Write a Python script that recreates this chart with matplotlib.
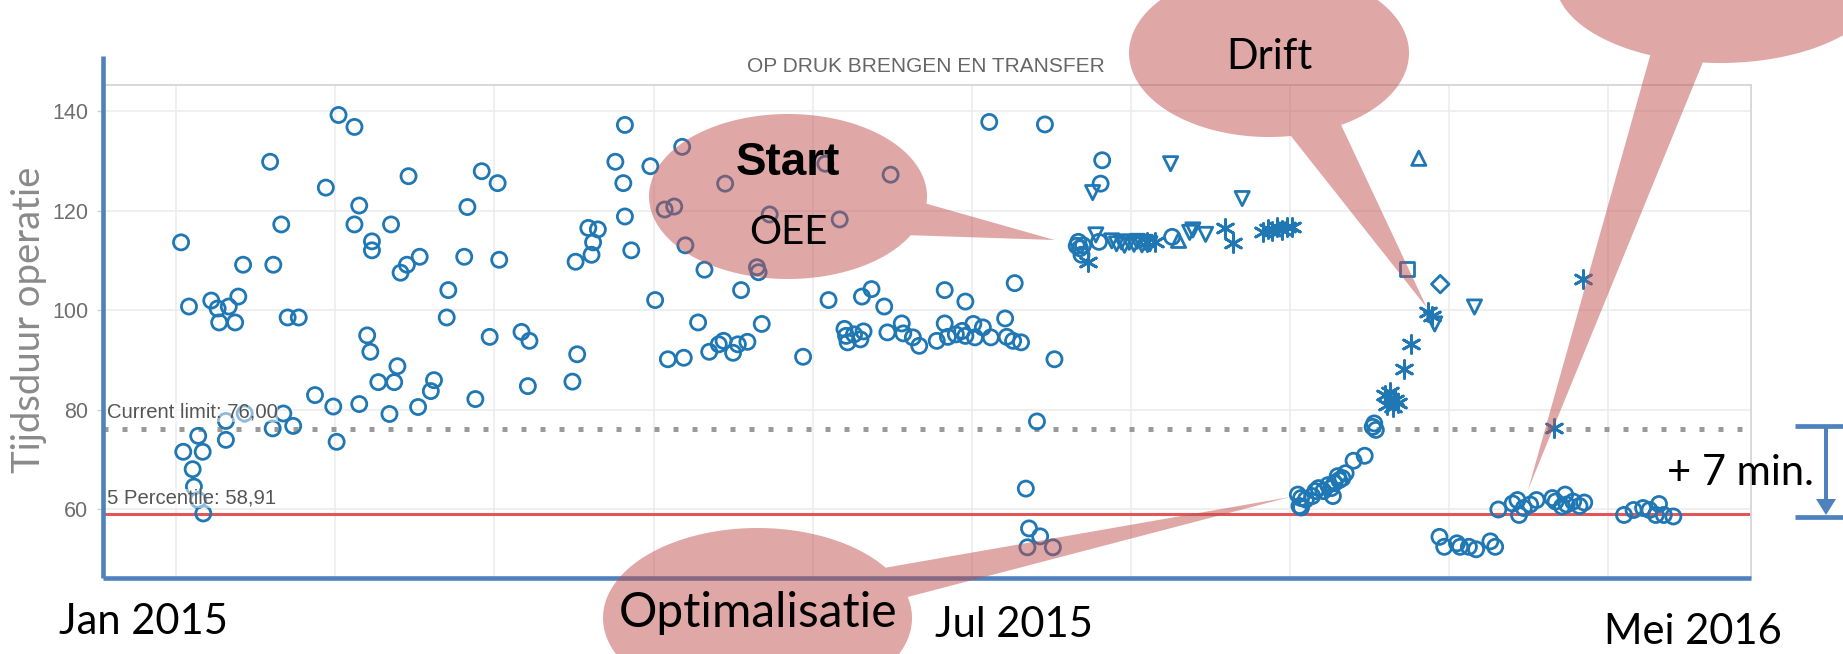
import matplotlib
matplotlib.use("Agg")
import matplotlib.pyplot as plt
import numpy as np
from matplotlib.patches import Polygon
from matplotlib.transforms import blended_transform_factory

# x positions are in "grid units": one unit per vertical gridline of the chart
circle_x = [0.03, 0.08, 0.044, 0.138, 0.166, 0.103, 0.111, 0.138, 0.17, 0.22,
            0.26, 0.27, 0.33, 0.37, 0.39, 0.42, 0.312, 0.312, 0.43, 0.59,
            0.61, 0.66, 0.606, 0.673, 0.70, 0.735, 0.77, 0.872, 0.94, 0.987,
            1.008, 1.02, 1.12, 1.12, 1.15, 1.15, 1.20, 1.22, 1.23, 1.23,
            1.27, 1.34, 1.35, 1.37, 1.39, 1.41, 1.45, 1.46, 1.52, 1.53,
            1.60, 1.62, 1.70, 1.71, 1.81, 1.83, 1.88, 1.92, 1.97, 2.02,
            2.03, 2.17, 2.21, 2.22, 2.49, 2.51, 2.52, 2.59, 2.61, 2.62,
            2.65, 2.76, 2.82, 2.81, 2.82, 2.86,
            2.98, 3.18, 3.07, 3.13, 3.20, 3.32, 3.45, 3.01, 3.55, 3.28,
            3.35, 3.41, 3.44, 3.50, 3.53, 3.59, 3.66, 3.65, 3.68, 3.73,
            4.08, 4.17, 4.49, 3.09, 3.19, 3.94, 4.10, 4.31, 4.37, 4.45,
            4.83, 4.96, 5.11, 5.46, 5.27, 5.52,
            4.20, 4.21, 4.22, 4.26, 4.30, 4.32, 4.47, 4.56, 4.57, 4.63,
            4.67, 4.78, 4.83, 4.85, 4.90, 4.94, 4.96, 5.01, 5.02, 5.07,
            5.12, 5.21, 5.22, 5.26, 5.31,
            5.82, 5.81, 5.67, 5.68, 5.69, 5.70, 5.66, 5.80, 6.26,
            5.41, 5.34, 5.36, 5.43, 5.35, 5.51,
            7.53, 7.54, 7.52, 7.47, 7.40, 7.35, 7.33, 7.30, 7.28, 7.26,
            7.24, 7.21, 7.18, 7.16, 7.14, 7.10, 7.07, 7.05, 7.06, 7.07,
            7.27, 7.31,
            7.94, 7.97, 8.05, 8.07, 8.125, 8.17, 8.26, 8.29,
            8.31, 8.40, 8.43, 8.44, 8.47, 8.51, 8.55, 8.65, 8.67, 8.73,
            8.74, 8.78, 8.82, 8.85, 8.71,
            9.10, 9.16, 9.22, 9.26, 9.32, 9.30, 9.35, 9.41]
circle_y = [113.6, 100.7, 71.5, 74.7, 71.5, 68.0, 64.5, 61.8, 59.1, 101.9,
            100.3, 97.5, 100.7, 97.5, 102.7, 109.1, 77.7, 73.9, 79.2, 129.8,
            109.1, 117.2, 76.2, 79.2, 98.5, 76.7, 98.5, 82.9, 124.6, 80.6,
            73.5, 139.2, 136.8, 117.2, 121.0, 81.1, 94.9, 91.6, 113.8, 112.0,
            85.5, 79.1, 117.2, 85.5, 88.7, 107.5, 109.1, 126.9, 80.5, 110.7,
            83.7, 85.9, 98.5, 104.0, 110.7, 120.7, 82.1, 127.9, 94.6, 125.5,
            110.1, 95.6, 84.7, 93.8, 85.6, 109.7, 91.1, 116.5, 111.1, 113.6,
            116.2, 129.8, 137.2, 125.5, 118.8, 112.0,
            128.9, 132.8, 120.2, 120.8, 113.0, 108.1, 125.4, 102.0, 104.0, 97.5,
            91.6, 93.1, 93.8, 91.4, 93.1, 93.6, 107.6, 108.6, 97.2, 119.2,
            129.4, 118.2, 127.2, 90.1, 90.4, 90.6, 102.0, 102.7, 104.2, 100.7,
            104.0, 101.7, 137.8, 137.3, 105.4, 90.1,
            96.2, 94.8, 93.5, 95.1, 94.1, 95.7, 95.5, 97.3, 95.3, 94.5,
            92.8, 93.8, 97.3, 94.6, 95.1, 95.8, 94.8, 97.2, 94.5, 96.5,
            94.5, 98.3, 94.6, 93.8, 93.5,
            130.1, 125.4, 113.7, 112.4, 111.1, 113.0, 112.9, 113.7, 114.7,
            77.6, 64.1, 56.1, 54.5, 52.3, 52.3,
            77.2, 75.9, 76.5, 70.7, 69.7, 67.2, 66.2, 66.6, 65.2, 64.2,
            64.8, 63.6, 64.2, 63.6, 62.6, 61.9, 62.2, 62.9, 60.6, 60.3,
            62.6, 65.8,
            54.4, 52.4, 53.1, 52.4, 52.4, 51.9, 53.5, 52.4,
            59.9, 61.1, 61.8, 58.8, 60.2, 60.9, 61.8, 62.2, 61.5, 62.9,
            60.9, 61.5, 60.6, 61.3, 60.5,
            58.8, 59.8, 60.2, 59.8, 61.0, 58.8, 58.8, 58.5]

tri_down_x = [5.76, 5.78, 5.88, 5.91, 5.94, 5.96, 5.99, 6.02, 6.04, 6.07,
              6.09, 6.12, 6.25, 6.39, 6.37, 6.47, 6.70, 7.91, 8.16]
tri_down_y = [123.6, 115.1, 113.9, 113.3, 113.7, 113.0, 113.6, 113.2, 113.8, 113.1,
              113.6, 113.3, 129.4, 116.1, 115.6, 115.2, 122.4, 97.2, 100.6]

tri_up_x = [6.30, 7.81]
tri_up_y = [114.0, 130.5]

square_x = [7.735]
square_y = [108.2]

diamond_x = [7.945]
diamond_y = [105.2]

star_x = [5.73, 6.10, 6.15, 6.59, 6.64, 6.83, 6.86, 6.89, 6.92, 6.95,
          6.98, 7.01, 7.87, 7.89, 7.76, 7.72, 7.60, 7.63, 7.66, 7.61,
          7.65, 7.68, 7.63, 8.66, 8.84]
star_y = [109.7, 113.7, 113.7, 116.4, 113.4, 115.7, 116.2, 115.9, 116.6, 116.0,
          116.6, 116.6, 99.6, 98.7, 93.1, 88.1, 83.0, 83.6, 82.0, 81.0,
          80.5, 81.3, 82.3, 76.3, 106.3]

current_limit = 76.00
percentile_5 = 58.91
y_ticks = [60, 80, 100, 120, 140]

BLUE = "#1f77b4"
OFFICE_BLUE = "#4F81BD"
BUBBLE = "#C0504D"
CAL = ["Lato", "DejaVu Sans"]
TAB = ["Liberation Sans", "DejaVu Sans"]

W, H = 1843, 654
fig = plt.figure(figsize=(W / 100, H / 100), dpi=100)
ax = fig.add_axes([103.4 / W, 1 - 578 / H, (1751.3 - 103.4) / W, (578 - 84.6) / H])

# --- scatter ---------------------------------------------------------------
kw = dict(facecolors="none", edgecolors=BLUE, linewidths=2.0, zorder=2)
ax.scatter(circle_x, circle_y, marker="o", s=118, **kw)
ax.scatter(tri_down_x, tri_down_y, marker="v", s=105, **kw)
ax.scatter(tri_up_x, tri_up_y, marker="^", s=105, **kw)
ax.scatter(square_x, square_y, marker="s", s=95, **kw)
ax.scatter(diamond_x, diamond_y, marker="D", s=80, **kw)
ax.scatter(star_x, star_y, marker=(6, 2, 0), s=165, color=BLUE, linewidths=2.0, zorder=2)

# reference lines
ax.axhline(current_limit, color="#9a9a9a", linewidth=3.6, linestyle=(0, (1, 2.8)),
           dash_capstyle="butt", zorder=1.5)
ax.axhline(percentile_5, color="#e15759", linewidth=2.2, zorder=1.5)

bt = blended_transform_factory(ax.transAxes, ax.transData)
lbl = dict(transform=bt, ha="left", va="center", fontsize=14.6, color="#555555",
           family=TAB, zorder=3,
           bbox=dict(facecolor="white", alpha=0.5, edgecolor="none", pad=0))
ax.text(0.002, 79.4, f"Current limit: {current_limit:.2f}".replace(".", ","), **lbl)
ax.text(0.002, 62.2, f"5 Percentile: {percentile_5:.2f}".replace(".", ","), **lbl)

ax.set_xlim(-0.458, 9.90)
ax.set_ylim(46.13, 145.31)
ax.set_xticks(range(10))
ax.set_xticklabels([])
ax.set_yticks(y_ticks)
ax.tick_params(axis="x", length=0)
ax.tick_params(axis="y", length=4, width=1, color="#cfcfcf", labelsize=15.5,
               labelcolor="#6e6e6e", pad=7)
for lab in ax.get_yticklabels():
    lab.set_family(TAB)
ax.grid(color="#ececec", linewidth=1.2)
ax.set_axisbelow(True)
for side in ("left", "bottom"):
    ax.spines[side].set_visible(False)
for side in ("top", "right"):
    ax.spines[side].set_color("#d6d6d6")
    ax.spines[side].set_linewidth(1.3)

# --- overlay in pixel coordinates (shapes drawn on top of the chart) --------
ov = fig.add_axes([0, 0, 1, 1], zorder=5)
ov.set_xlim(0, W)
ov.set_ylim(H, 0)
ov.axis("off")
ov.patch.set_alpha(0)

ov.text(926, 67, "OP DRUK BRENGEN EN TRANSFER", ha="center", va="center",
        fontsize=15, color="#666666", family=TAB)
ov.text(29, 320, "Tijdsduur operatie", rotation=90, ha="center", va="center",
        fontsize=27.5, color="#8a8a8a", family=CAL)

# thick axis lines
ov.plot([103.4, 103.4], [56, 578], color=OFFICE_BLUE, linewidth=3.3, solid_capstyle="butt")
ov.plot([103.4, 1751.3], [578, 578], color=OFFICE_BLUE, linewidth=3.3, solid_capstyle="butt")


def bubble(cx, cy, a, b, t1, t2, tip):
    th = np.radians(np.linspace(t2, t1 + 360, 240))
    pts = np.column_stack([cx + a * np.cos(th), cy + b * np.sin(th)])
    pts = np.vstack([pts, tip])
    ov.add_patch(Polygon(pts, closed=True, facecolor=BUBBLE, alpha=0.5,
                         edgecolor="none", zorder=2))


bubble(788, 196.5, 139, 82.5, 5, 28, (1054.5, 240))       # Start OEE
bubble(1269, 53, 140, 84, 59, 81, (1427, 308))            # Drift
bubble(1720, -20, 165, 83, 96, 115, (1528, 490))          # top right
bubble(757.5, 618, 154.5, 90, -34, -13.5, (1290, 497))    # Optimalisatie

ov.text(788, 163, "Start", ha="center", va="center", fontsize=33, fontweight="bold",
        family=TAB, color="black", zorder=4)
ov.text(788, 233, "OEE", ha="center", va="center", fontsize=29, family=CAL,
        color="black", zorder=4)
ov.text(1269, 57, "Drift", ha="center", va="center", fontsize=30, family=CAL,
        color="black", zorder=4)
ov.text(758, 613, "Optimalisatie", ha="center", va="center", fontsize=34.5, family=CAL,
        color="black", zorder=4)

for txt, x, y in [("Jan 2015", 143, 622), ("Jul 2015", 1014, 625), ("Mei 2016", 1693, 632)]:
    ov.text(x, y, txt, ha="center", va="center", fontsize=30, family=CAL, color="black")

# +7 min bracket
ov.plot([1795, 1843], [426, 426], color=OFFICE_BLUE, linewidth=3.4, solid_capstyle="butt")
ov.plot([1795, 1843], [516.5, 516.5], color=OFFICE_BLUE, linewidth=3.4, solid_capstyle="butt")
ov.plot([1826, 1826], [426, 500], color=OFFICE_BLUE, linewidth=2.9, solid_capstyle="butt")
ov.add_patch(Polygon([(1816, 499), (1836, 499), (1826, 515)], closed=True,
                     facecolor=OFFICE_BLUE, edgecolor="none"))
ov.text(1740, 473, "+ 7 min.", ha="center", va="center", fontsize=30, family=CAL,
        color="black")

fig.savefig("out.png", dpi=100)
